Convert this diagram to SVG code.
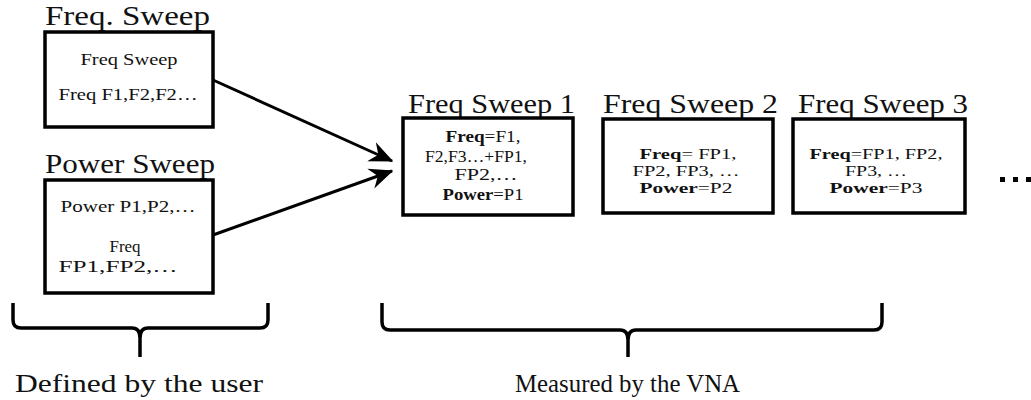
<svg xmlns="http://www.w3.org/2000/svg" width="1031" height="400" viewBox="0 0 1031 400">
<style>
.box{fill:#fff;stroke:#000;stroke-width:3.5}
.title{font-family:"Liberation Serif","Times New Roman",serif;font-size:27px;fill:#111}
.t{font-family:"Liberation Serif","Times New Roman",serif;font-size:17px;fill:#111;text-anchor:middle}
.s{font-size:16px}
.m{font-size:15px}
.b{font-weight:bold}
.con{stroke:#000;stroke-width:3;fill:none}
.brace{stroke:#000;stroke-width:3.5;fill:none}
.lbl{font-family:"Liberation Serif","Times New Roman",serif;font-size:25px;fill:#111}
.dot{fill:#000}
</style>
<defs>
<marker id="ah" markerWidth="8" markerHeight="8" refX="7.5" refY="4" orient="auto" markerUnits="strokeWidth" viewBox="0 0 8 8">
<path d="M0,0.5 L8,4 L0,7.5 L2.5,4 Z" fill="#000"/>
</marker>
</defs>
<g id="freq-sweep-def">
<text class="title" x="45" y="25" textLength="165" lengthAdjust="spacingAndGlyphs">Freq.  Sweep</text>
<rect class="box" x="45" y="32" width="168" height="95"/>
<text class="t s" x="129" y="65" textLength="97" lengthAdjust="spacingAndGlyphs">Freq Sweep</text>
<text class="t s" x="128" y="100" textLength="139" lengthAdjust="spacingAndGlyphs">Freq F1,F2,F2…</text>
</g>
<g id="power-sweep-def">
<text class="title" x="45" y="173" textLength="170" lengthAdjust="spacingAndGlyphs">Power Sweep</text>
<rect class="box" x="45" y="180" width="168" height="113"/>
<text class="t s" x="128" y="212" textLength="135" lengthAdjust="spacingAndGlyphs">Power P1,P2,…</text>
<text class="t s" x="125" y="252" textLength="31" lengthAdjust="spacingAndGlyphs">Freq</text>
<text class="t s" x="118" y="272" textLength="119" lengthAdjust="spacingAndGlyphs">FP1,FP2,…</text>
</g>
<g id="freq-sweep-1">
<text class="title" x="408" y="113" textLength="167" lengthAdjust="spacingAndGlyphs">Freq Sweep 1</text>
<rect class="box" x="403" y="118" width="170" height="97"/>
<text class="t" x="483" y="142" textLength="75" lengthAdjust="spacingAndGlyphs"><tspan class="b">Freq</tspan>=F1,</text>
<text class="t" x="476" y="162" textLength="102" lengthAdjust="spacingAndGlyphs">F2,F3…+FP1,</text>
<text class="t" x="486" y="180" textLength="63" lengthAdjust="spacingAndGlyphs">FP2,…</text>
<text class="t" x="483" y="200" textLength="81" lengthAdjust="spacingAndGlyphs"><tspan class="b">Power</tspan>=P1</text>
</g>
<g id="freq-sweep-2">
<text class="title" x="603" y="113" textLength="175" lengthAdjust="spacingAndGlyphs">Freq Sweep 2</text>
<rect class="box" x="603" y="119" width="170" height="94"/>
<text class="t m" x="688" y="159" textLength="97" lengthAdjust="spacingAndGlyphs"><tspan class="b">Freq</tspan>= FP1,</text>
<text class="t m" x="686" y="176" textLength="107" lengthAdjust="spacingAndGlyphs">FP2, FP3, …</text>
<text class="t m" x="686" y="193" textLength="93" lengthAdjust="spacingAndGlyphs"><tspan class="b">Power</tspan>=P2</text>
</g>
<g id="freq-sweep-3">
<text class="title" x="798" y="113" textLength="170" lengthAdjust="spacingAndGlyphs">Freq Sweep 3</text>
<rect class="box" x="793" y="119" width="172" height="94"/>
<text class="t m" x="876" y="159" textLength="133" lengthAdjust="spacingAndGlyphs"><tspan class="b">Freq</tspan>=FP1, FP2,</text>
<text class="t m" x="876" y="176" textLength="62" lengthAdjust="spacingAndGlyphs">FP3, …</text>
<text class="t m" x="876" y="193" textLength="93" lengthAdjust="spacingAndGlyphs"><tspan class="b">Power</tspan>=P3</text>
</g>
<g id="ellipsis">
<rect class="dot" x="1000" y="177" width="5" height="5"/>
<rect class="dot" x="1013" y="177" width="5" height="5"/>
<rect class="dot" x="1026" y="177" width="5" height="5"/>
</g>
<g id="connectors">
<line class="con" x1="213" y1="80" x2="392" y2="161" marker-end="url(#ah)"/>
<line class="con" x1="213" y1="235" x2="392" y2="171" marker-end="url(#ah)"/>
</g>
<g id="brace-user">
<path class="brace" d="M13,303 V320 Q13,328 21,328 H132 Q140,328 140,338 V357 M268,303 V320 Q268,328 260,328 H148 Q140,328 140,338"/>
<text class="lbl" x="15" y="392" textLength="248" lengthAdjust="spacingAndGlyphs">Defined by the user</text>
</g>
<g id="brace-vna">
<path class="brace" d="M382,303 V322 Q382,330 390,330 H620 Q628,330 628,340 V357 M882,303 V322 Q882,330 874,330 H636 Q628,330 628,340"/>
<text class="lbl" x="515" y="392" textLength="225" lengthAdjust="spacingAndGlyphs">Measured by the VNA</text>
</g>
</svg>
